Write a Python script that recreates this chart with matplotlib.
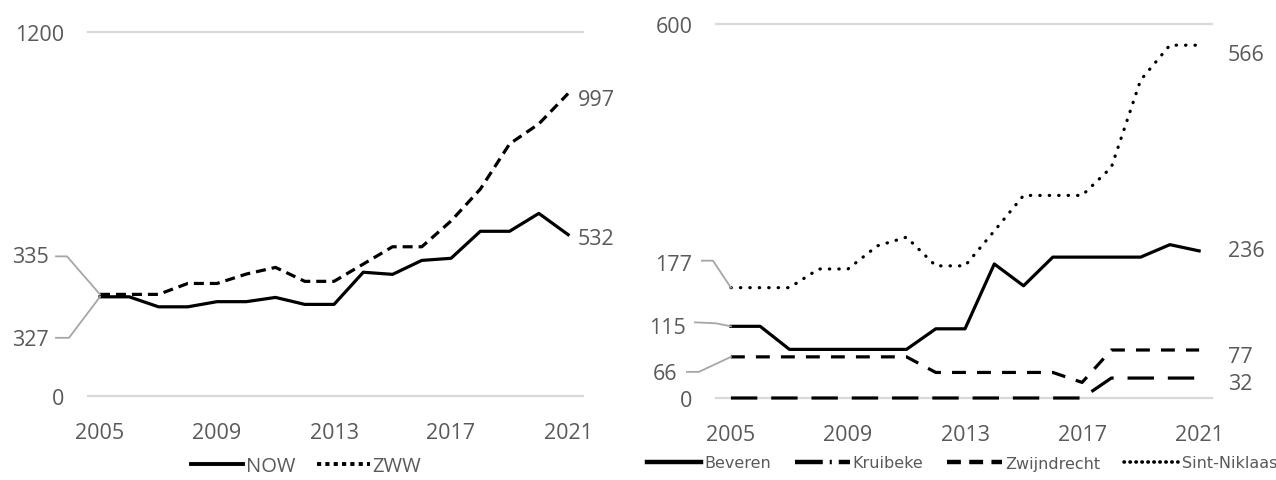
import matplotlib
matplotlib.use("Agg")
import matplotlib.pyplot as plt
from matplotlib.lines import Line2D
from matplotlib.transforms import IdentityTransform

# data
years = list(range(2005, 2022))
year_ticks = [2005, 2009, 2013, 2017, 2021]

now = [327, 327, 294, 294, 311, 311, 325, 302, 302, 408, 401, 447, 454, 543, 543, 602, 532]
zww = [335, 335, 335, 371, 371, 402, 424, 378, 378, 435, 492, 492, 577, 682, 831, 897, 997]

beveren = [115, 115, 78, 78, 78, 78, 78, 111, 111, 215, 180, 226, 226, 226, 226, 246, 236]
kruibeke = [0, 0, 0, 0, 0, 0, 0, 0, 0, 0, 0, 0, 0, 32, 32, 32, 32]
zwijndrecht = [66, 66, 66, 66, 66, 66, 66, 41, 41, 41, 41, 41, 25, 77, 77, 77, 77]
sint_niklaas = [177, 177, 177, 207, 207, 244, 258, 212, 212, 268, 325, 325, 325, 370, 510, 566, 566]

W, H = 1276, 481
TEXT = "#595959"
GRID = "#d9d9d9"
LEADER = "#a6a6a6"
LW = 2.3
FS = 15.5

plt.rcParams["font.family"] = ["Open Sans", "DejaVu Sans"]
plt.rcParams["lines.scale_dashes"] = False

fig = plt.figure(figsize=(W / 100, H / 100), dpi=100)


def px_axes(x0, y0, x1, y1):
    return fig.add_axes([x0 / W, 1 - y1 / H, (x1 - x0) / W, (y1 - y0) / H])


def style_axes(ax, ymax, xlim):
    ax.set_xlim(*xlim)
    ax.set_ylim(0, ymax)
    for s in ax.spines.values():
        s.set_visible(False)
    ax.set_xticks(year_ticks)
    ax.set_yticks([0, ymax])
    ax.tick_params(length=0, labelsize=FS, colors=TEXT)
    ax.tick_params(axis="y", pad=17)
    ax.tick_params(axis="x", pad=19)
    for v in (0, ymax):
        ax.axhline(v, color=GRID, lw=1.6, zorder=0, clip_on=False)


def leader(ax, x, y, text, end, elbow, text_off):
    px, py = ax.transData.transform((x, y))
    xs = [px + end[0], px + elbow[0], px]
    ys = [py + end[1], py + elbow[1], py]
    fig.add_artist(Line2D(xs, ys, transform=IdentityTransform(), color=LEADER, lw=1.3))
    ax.annotate(text, xy=(x, y), xytext=text_off, textcoords="offset pixels",
                ha="right", va="center", fontsize=FS, color=TEXT)


def end_label(ax, x, y, text, off):
    ax.annotate(text, xy=(x, y), xytext=off, textcoords="offset pixels",
                ha="left", va="center", fontsize=FS, color=TEXT)


# left chart
ax1 = px_axes(88, 33, 583, 397)
style_axes(ax1, 1200, (2004.59, 2021.51))
ax1.plot(years, now, color="black", lw=LW, clip_on=False)
ax1.plot(years, zww, color="black", lw=LW, linestyle=(0, (7.2, 4.3)), clip_on=False)

leader(ax1, years[0], zww[0], str(zww[0]), (-44, 38), (-33, 38), (-51, 38))
leader(ax1, years[0], now[0], str(now[0]), (-44, -41), (-31, -41), (-51, -43))
end_label(ax1, years[-1], zww[-1], str(zww[-1]), (10, -6))
end_label(ax1, years[-1], now[-1], str(now[-1]), (10, -4))

left_handles = [
    Line2D([], [], color="black", lw=2.8),
    Line2D([], [], color="black", lw=2.8, linestyle=(0, (3.0, 3.0))),
]
fig.legend(left_handles, ["NOW", "ZWW"], loc="center", bbox_to_anchor=(306 / W, 1 - 467 / H),
           ncol=2, frameon=False, fontsize=14.5, labelcolor=TEXT, handlelength=2.6,
           handletextpad=0.12, columnspacing=1.1)

# right chart
ax2 = px_axes(716, 25, 1212, 399)
style_axes(ax2, 600, (2004.49, 2021.44))
ax2.plot(years, beveren, color="black", lw=LW, clip_on=False)
ax2.plot(years, kruibeke, color="black", lw=LW, linestyle=(0, (19, 10)), clip_on=False)
ax2.plot(years, zwijndrecht, color="black", lw=LW, linestyle=(0, (10, 8)), clip_on=False)
ax2.plot(years, sint_niklaas, color="black", lw=LW, linestyle=(0, (0.3, 6.5)),
         dash_capstyle="round", clip_on=False)

leader(ax2, years[0], sint_niklaas[0], str(sint_niklaas[0]), (-29, 27), (-18, 27), (-39, 23))
leader(ax2, years[0], beveren[0], str(beveren[0]), (-36, 4), (-15, 3), (-45, -1))
leader(ax2, years[0], zwijndrecht[0], str(zwijndrecht[0]), (-44, -15), (-32, -15), (-54, -17))
end_label(ax2, years[-1], sint_niklaas[-1], str(sint_niklaas[-1]), (29, -9))
end_label(ax2, years[-1], beveren[-1], str(beveren[-1]), (29, 0))
end_label(ax2, years[-1], zwijndrecht[-1], str(zwijndrecht[-1]), (29, -6))
end_label(ax2, years[-1], kruibeke[-1], str(kruibeke[-1]), (29, -5))

right_handles = [
    Line2D([], [], color="black", lw=3.2),
    Line2D([], [], color="black", lw=3.2, linestyle=(0, (20, 5, 1.5, 5))),
    Line2D([], [], color="black", lw=3.2, linestyle=(0, (10, 6))),
    Line2D([], [], color="black", lw=2.6, linestyle=(0, (0.3, 4)), dash_capstyle="round"),
]
fig.legend(right_handles, ["Beveren", "Kruibeke", "Zwijndrecht", "Sint-Niklaas"],
           loc="center", bbox_to_anchor=(962 / W, 1 - 464 / H), ncol=4, frameon=False,
           prop={"family": ["Liberation Sans Narrow", "DejaVu Sans"], "size": 11.5},
           labelcolor=TEXT, handlelength=3.4, handletextpad=0.2, columnspacing=1.5)

fig.savefig("out.png", dpi=100)
